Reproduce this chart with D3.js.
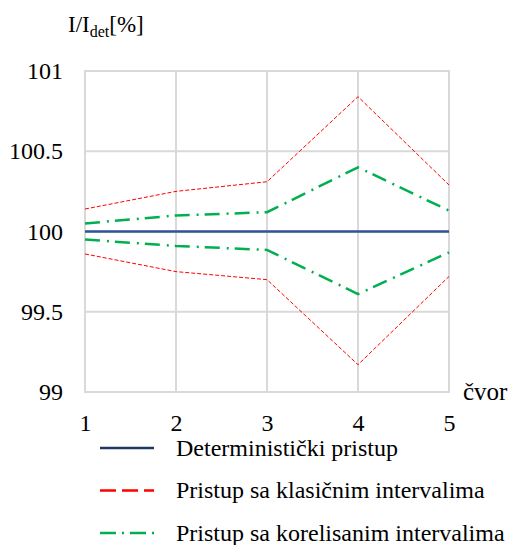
<!DOCTYPE html>
<html>
<head>
<meta charset="utf-8">
<script src="https://cdn.jsdelivr.net/npm/d3@7"></script>
<style>
  body { margin: 0; background: #fff; }
  svg text { font-family: "Liberation Serif", Tinos, "Times New Roman", "DejaVu Serif", serif !important; fill: #000; }
</style>
</head>
<body>
<script>
// node numbers along x
const nodes = [1, 2, 3, 4, 5]
const yTicks = [99, 99.5, 100, 100.5, 101]

// I/Idet in %
const deterministic = [100, 100, 100, 100, 100]
const classicUpper = [100.14, 100.25, 100.31, 100.84, 100.29]
const classicLower = [99.86, 99.75, 99.70, 99.17, 99.72]
const correlatedUpper = [100.05, 100.10, 100.12, 100.40, 100.13]
const correlatedLower = [99.95, 99.91, 99.885, 99.61, 99.87]

const legendLabels = [
    "Deterministički pristup",
    "Pristup sa klasičnim intervalima",
    "Pristup sa korelisanim intervalima"
]

const width = 510, height = 545
const margin = { left: 85, right: 61, top: 71, bottom: 153 }

const svg = d3.select("body").append("svg")
    .attr("width", width)
    .attr("height", height)

const x = d3.scaleLinear().domain([1, 5]).range([margin.left, width - margin.right])
const y = d3.scaleLinear().domain([99, 101]).range([height - margin.bottom, margin.top])

// grid
const grid = svg.append("g").attr("stroke", "#d9d9d9").attr("stroke-width", 2)
grid.selectAll(".gx").data(nodes).join("line")
    .attr("x1", d => x(d)).attr("x2", d => x(d))
    .attr("y1", y(99)).attr("y2", y(101))
grid.selectAll(".gy").data(yTicks).join("line")
    .attr("x1", x(1) - 1).attr("x2", x(5) + 1)
    .attr("y1", d => y(d)).attr("y2", d => y(d))

// axes (text only)
const yAxis = svg.append("g")
    .attr("transform", `translate(${x(1) - 22},0)`)
    .call(d3.axisLeft(y).tickValues(yTicks).tickSize(0).tickPadding(0).tickFormat(d3.format("")))
yAxis.select(".domain").remove()
yAxis.selectAll("text").attr("font-size", 24).attr("dy", "0.32em")

const xAxis = svg.append("g")
    .attr("transform", `translate(0,${y(99) + 22})`)
    .call(d3.axisBottom(x).tickValues(nodes).tickSize(0).tickPadding(0).tickFormat(d3.format("d")))
xAxis.select(".domain").remove()
xAxis.selectAll("text").attr("font-size", 24).attr("dy", "0.71em")

const line = d3.line().x((d, i) => x(nodes[i])).y(d => y(d))

const series = [
    { values: classicUpper, color: "#ff0000", w: 1, dash: "4,2" },
    { values: classicLower, color: "#ff0000", w: 1, dash: "4,2" },
    { values: correlatedUpper, color: "#00b050", w: 2.5, dash: "15,7,2,6" },
    { values: correlatedLower, color: "#00b050", w: 2.5, dash: "15,7,2,6" },
    { values: deterministic, color: "#2f5597", w: 2.5, dash: null }
]

svg.append("g").selectAll("path").data(series).join("path")
    .attr("d", d => line(d.values))
    .attr("fill", "none")
    .attr("stroke", d => d.color)
    .attr("stroke-width", d => d.w)
    .attr("stroke-dasharray", d => d.dash)

// axis titles
const title = svg.append("text").attr("x", 68).attr("y", 32).attr("font-size", 23)
title.append("tspan").text("I/I")
title.append("tspan").text("det").attr("font-size", 16).attr("dy", 5)
title.append("tspan").text("[%]").attr("dy", -5)

svg.append("text").attr("x", 463).attr("y", 400).attr("font-size", 25).text("čvor")

// legend
const legendStyles = [
    { color: "#1f3864", dash: null },
    { color: "#ff0000", dash: "16,6" },
    { color: "#00b050", dash: "16,6,2,6" }
]
const legend = svg.append("g").selectAll("g").data(legendLabels).join("g")
    .attr("transform", (d, i) => `translate(0,${448 + i * 42.5})`)
legend.append("line")
    .attr("x1", 100).attr("x2", 154)
    .attr("stroke", (d, i) => legendStyles[i].color)
    .attr("stroke-width", 2.5)
    .attr("stroke-dasharray", (d, i) => legendStyles[i].dash)
legend.append("text")
    .attr("x", 176).attr("dy", "0.32em")
    .attr("font-size", 24)
    .text(d => d)
</script>
</body>
</html>
